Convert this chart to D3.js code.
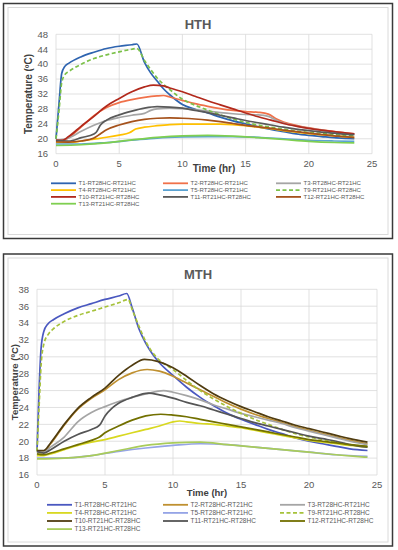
<!DOCTYPE html>
<html><head><meta charset="utf-8">
<script src="https://cdn.jsdelivr.net/npm/d3@7"></script>
<style>body{margin:0;background:#fff}svg{display:block}</style>
</head><body><svg id="c" width="398" height="550"></svg>
<script>
// ---------- DATA ----------
const seriesNames = ["T1-RT28HC-RT21HC","T2-RT28HC-RT21HC","T3-RT28HC-RT21HC","T4-RT28HC-RT21HC","T5-RT28HC-RT21HC","T9-RT21HC-RT28HC","T10-RT21HC-RT28HC","T11-RT21HC-RT28HC","T12-RT21HC-RT28HC","T13-RT21HC-RT28HC"];
const xTicks = [0,5,10,15,20,25];
const hthYTicks = [16,20,24,28,32,36,40,44,48];
const mthYTicks = [16,18,20,22,24,26,28,30,32,34,36,38];

// HTH series: [time (hr), temperature (°C)]
const hthT1 = [[0,20],[0.25,30],[0.45,37.5],[0.7,39.4],[1,40.2],[2,42],[3,43.2],[4,44.2],[5,44.8],[6,45.2],[6.4,45.4],[7,40.5],[7.5,37.6],[8,35.5],[8.5,33.4],[9,31.8],[10,29.2],[11,27.9],[12,26.9],[13,25.8],[14,24.8],[15,24],[16,23.2],[17,22.5],[18,21.9],[19,21.3],[20,20.9],[21,20.6],[22,20.3],[23,20.1],[23.6,20]];
const hthT2 = [[0,19.8],[0.5,19.5],[1,20.3],[2,23.2],[3,26.2],[4,28.4],[5,29.7],[6,30.5],[7,31.1],[8,31.5],[8.5,31.6],[9,31.2],[10,30.3],[11,29.4],[12,28.7],[13,28.1],[14,27.6],[15,27.3],[16,27.1],[16.8,26.6],[17.5,25.2],[18,24.5],[19,23.6],[20,22.9],[21,22.4],[22,21.9],[23,21.5],[23.6,21.3]];
const hthT3 = [[0,19.6],[1,20.2],[2,22],[3,23.6],[4,24.9],[5,25.7],[6,26.3],[7,26.8],[7.5,27.6],[8,28],[9,28.2],[10,28.1],[11,27.8],[12,27.4],[13,27],[14,26.7],[15,26.5],[16,26.4],[16.8,26],[17.5,24.8],[18,24.2],[19,23.4],[20,22.8],[21,22.3],[22,21.8],[23,21.4],[23.6,21.2]];
const hthT4 = [[0,19],[1,19],[2,19.4],[3,19.9],[4,20.4],[5,21],[5.8,21.6],[6.3,22.6],[7,23.1],[8,23.5],[9,23.8],[10,23.9],[11,23.9],[12,23.9],[13,23.9],[14,23.8],[15,23.5],[16,23.1],[17,22.7],[18,22.2],[19,21.8],[20,21.4],[21,21.1],[22,20.8],[23,20.5],[23.6,20.4]];
const hthT5 = [[0,18.6],[2,18.6],[4,19],[6,19.6],[8,20.2],[10,20.5],[12,20.6],[14,20.6],[16,20.4],[18,20],[20,19.6],[22,19.4],[23.6,19.3]];
const hthT9 = [[0,20],[0.25,28],[0.45,35],[0.7,37.2],[1,38],[2,40],[3,41.5],[4,42.5],[5,43.3],[6,44],[6.4,44.2],[7,41],[7.5,38.5],[8,36.3],[8.5,34.6],[9,33.2],[10,30.6],[11,29],[12,27.7],[13,26.4],[14,25.3],[15,24.4],[16,23.7],[17,23.1],[18,22.6],[19,22.1],[20,21.7],[21,21.4],[22,21.1],[23,20.9],[23.6,20.8]];
const hthT10 = [[0,19.6],[0.5,19.6],[1,20.6],[2,23.4],[3,26],[3.5,27.5],[4,28.8],[5,30.8],[6,32.6],[7,33.9],[7.7,34.4],[8.5,34.2],[9,33.6],[10,32.6],[11,31.4],[12,30.2],[13,29.1],[14,28],[15,26.9],[16,25.9],[17,25],[18,24.1],[19,23.4],[20,22.8],[21,22.3],[22,21.9],[23,21.5],[23.6,21.3]];
const hthT11 = [[0,19.5],[1,19.4],[2,20.3],[3,21.3],[3.2,21.8],[3.5,23.6],[4,25],[5,26.4],[6,27.4],[7,28.2],[8,28.6],[9,28.5],[10,28.2],[11,27.6],[12,27],[13,26.3],[14,25.6],[15,24.9],[16,24.3],[17,23.7],[18,23.1],[19,22.6],[20,22.2],[21,21.8],[22,21.5],[23,21.2],[23.6,21.1]];
const hthT12 = [[0,19.2],[1,19.1],[2,19.4],[3,20.2],[3.5,21.3],[4,22.4],[5,23.7],[6,24.6],[7,25.2],[8,25.5],[9,25.6],[10,25.5],[11,25.3],[12,25],[13,24.6],[14,24.1],[15,23.6],[16,23.2],[17,22.8],[18,22.3],[19,21.9],[20,21.5],[21,21.1],[22,20.8],[23,20.5],[23.6,20.4]];
const hthT13 = [[0,18.2],[2,18.4],[4,18.9],[6,19.7],[8,20.4],[10,20.8],[12,20.9],[14,20.7],[16,20.3],[18,19.8],[20,19.3],[22,19],[23.6,18.9]];

// MTH series
const mthT1 = [[0,18.8],[0.15,26],[0.3,31],[0.5,33],[0.8,33.9],[1.2,34.4],[2,35.1],[3,35.8],[4,36.3],[5,36.8],[6,37.2],[6.6,37.5],[7,35.8],[7.5,33.3],[8,31.6],[8.5,30.3],[9,29.3],[10,27.8],[11,26.4],[12,25.2],[13,24.2],[14,23.3],[15,22.6],[16,22],[17,21.4],[18,20.9],[19,20.4],[20,20],[21,19.7],[22,19.4],[23,19.1],[24.3,18.9]];
const mthT2 = [[0,18.8],[0.5,18.8],[1,19.7],[2,21.9],[3,23.8],[4,25.1],[5,26.1],[6,27.3],[7,28.1],[8.1,28.5],[9,28.3],[10,27.7],[11,26.9],[12,26.1],[13,25.3],[14,24.5],[15,23.8],[16,23.2],[17,22.7],[18,22.2],[19,21.7],[20,21.3],[21,20.9],[22,20.5],[23,20.1],[24.3,19.7]];
const mthT3 = [[0,18.7],[0.5,18.7],[1,19.3],[2,20.5],[3,22.3],[4,23.4],[5,24.1],[6,24.7],[7,25.2],[8,25.6],[9.3,26],[10,25.8],[11,25.4],[12,24.9],[13,24.3],[14,23.8],[15,23.3],[16,22.9],[17,22.5],[18,22.1],[19,21.6],[20,21.2],[21,20.8],[22,20.4],[23,20],[24.3,19.6]];
const mthT4 = [[0,18.3],[0.5,18.3],[1,18.5],[2,19],[3,19.5],[4,19.9],[5,20.2],[6,20.6],[7,21],[8,21.4],[9,21.8],[10,22.3],[10.5,22.4],[11,22.3],[12,22.1],[13,22],[14,21.8],[15,21.6],[16,21.3],[17,21],[18,20.7],[19,20.4],[20,20.1],[21,19.9],[22,19.7],[23,19.5],[24.3,19.3]];
const mthT5 = [[0,18],[2,18],[4,18.3],[6,18.8],[8,19.2],[10,19.5],[12,19.7],[14,19.6],[16,19.3],[18,19],[20,18.7],[22,18.4],[24.3,18.2]];
const mthT9 = [[0,18.8],[0.15,24],[0.3,29],[0.5,31.5],[0.8,32.6],[1.2,33.3],[2,34.2],[3,34.9],[4,35.4],[5,35.9],[6,36.4],[6.7,36.8],[7,35.6],[7.5,33.6],[8,31.8],[8.5,30.5],[9,29.6],[10,28.5],[11,27.2],[12,26],[13,25],[14,24.1],[15,23.3],[16,22.6],[17,22],[18,21.4],[19,20.9],[20,20.5],[21,20.2],[22,19.9],[23,19.6],[24.3,19.4]];
const mthT10 = [[0,18.9],[0.5,18.9],[1,19.8],[2,22],[3,23.9],[4,25.2],[5,26.3],[6,27.8],[7,29],[7.9,29.7],[9,29.4],[10,28.7],[11,27.7],[12,26.6],[13,25.6],[14,24.8],[15,24.1],[16,23.5],[17,22.9],[18,22.4],[19,21.9],[20,21.5],[21,21.1],[22,20.7],[23,20.3],[24.3,19.9]];
const mthT11 = [[0,18.8],[0.5,18.6],[1,19],[2,20],[3,20.8],[4,21.4],[4.6,21.9],[5,23],[5.5,23.9],[6,24.5],[7,25.2],[8.2,25.7],[9,25.5],[10,25.1],[11,24.6],[12,24.2],[13,23.7],[14,23.2],[15,22.7],[16,22.2],[17,21.8],[18,21.4],[19,21],[20,20.6],[21,20.3],[22,20],[23,19.6],[24.3,19.3]];
const mthT12 = [[0,18.5],[0.5,18.4],[1,18.6],[2,19.1],[3,19.6],[4,20.1],[4.6,20.5],[5,21],[6,21.8],[7,22.5],[8,23],[9.1,23.2],[10,23.1],[11,22.9],[12,22.6],[13,22.3],[14,22],[15,21.7],[16,21.4],[17,21.1],[18,20.8],[19,20.5],[20,20.2],[21,20],[22,19.8],[23,19.6],[24.3,19.4]];
const mthT13 = [[0,17.9],[2,18],[4,18.3],[6,18.9],[8,19.5],[10,19.8],[12,19.9],[14,19.6],[16,19.3],[18,19],[20,18.7],[22,18.4],[24.3,18.1]];

const hthData = [hthT1,hthT2,hthT3,hthT4,hthT5,hthT9,hthT10,hthT11,hthT12,hthT13];
const mthData = [mthT1,mthT2,mthT3,mthT4,mthT5,mthT9,mthT10,mthT11,mthT12,mthT13];
const hthColors = ["#2e64b0","#f0714a","#a5a5a5","#ffc000","#5ba3d2","#7cc14a","#b2291c","#595959","#a5521c","#7fcf50"];
const mthColors = ["#4a58c0","#bf9030","#a5a5a5","#d8d820","#95a4e6","#a6c23a","#503c10","#555555","#727000","#a9cc5a"];

// ---------- DRAW ----------
const svg = d3.select("#c");
const FONT = "'Liberation Sans', Arial, sans-serif";

function drawChart(cfg) {
  const g = svg.append("g");
  g.append("rect").attr("x",cfg.box[0]).attr("y",cfg.box[1]).attr("width",cfg.box[2]).attr("height",cfg.box[3])
    .attr("fill","#fff").attr("stroke","#3a3a3a").attr("stroke-width",1.5);
  g.append("rect").attr("x",cfg.box[0]+4.5).attr("y",cfg.box[1]+4).attr("width",cfg.box[2]-9).attr("height",cfg.box[3]-8)
    .attr("fill","none").attr("stroke","#dadada").attr("stroke-width",1);

  const x = d3.scaleLinear().domain([0,25]).range(cfg.xr);
  const y = d3.scaleLinear().domain(cfg.yd).range(cfg.yr);

  // grid
  g.selectAll(".hg").data(cfg.yTicks).join("line")
    .attr("x1",cfg.xr[0]).attr("x2",cfg.xr[1]).attr("y1",d=>y(d)).attr("y2",d=>y(d))
    .attr("stroke","#d9d9d9").attr("stroke-width",0.8);
  g.selectAll(".vg").data(xTicks).join("line")
    .attr("y1",cfg.yr[0]).attr("y2",cfg.yr[1]).attr("x1",d=>x(d)).attr("x2",d=>x(d))
    .attr("stroke","#d9d9d9").attr("stroke-width",0.8);

  // tick labels
  g.selectAll(".yl").data(cfg.yTicks).join("text")
    .attr("x",cfg.yLabelX).attr("y",d=>y(d)).attr("dy","0.35em").attr("text-anchor","end")
    .attr("font-family",FONT).attr("font-size",cfg.tickFs).attr("fill","#595959").text(d=>d);
  g.selectAll(".xl").data(xTicks).join("text")
    .attr("x",d=>x(d)).attr("y",cfg.xLabelY).attr("text-anchor","middle")
    .attr("font-family",FONT).attr("font-size",cfg.tickFs).attr("fill","#595959").text(d=>d);

  // titles
  g.append("text").attr("x",cfg.titleX).attr("y",cfg.titleY).attr("text-anchor","middle")
    .attr("font-family",FONT).attr("font-size",13).attr("font-weight","bold").attr("fill","#595959").text(cfg.title);
  g.append("text").attr("x",(cfg.xr[0]+cfg.xr[1])/2).attr("y",cfg.xTitleY).attr("text-anchor","middle")
    .attr("font-family",FONT).attr("font-size",cfg.axFs).attr("font-weight","bold").attr("fill","#404040").text("Time (hr)");
  g.append("text").attr("transform",`translate(${cfg.yTitleX},${(cfg.yr[0]+cfg.yr[1])/2}) rotate(-90)`)
    .attr("text-anchor","middle").attr("dy","0.35em")
    .attr("font-family",FONT).attr("font-size",cfg.axFs).attr("font-weight","bold").attr("fill","#404040").text("Temperature (ºC)");

  // lines
  const line = d3.line().x(d=>x(d[0])).y(d=>y(d[1])).curve(d3.curveMonotoneX);
  cfg.data.forEach((s,i)=>{
    g.append("path").attr("d",line(s)).attr("fill","none").attr("stroke",cfg.colors[i])
      .attr("stroke-width",1.7).attr("stroke-linejoin","round")
      .attr("stroke-dasharray", seriesNames[i].startsWith("T9") ? "4,2.5" : null);
  });

  // legend
  seriesNames.forEach((name,i)=>{
    const col = i%3, row = Math.floor(i/3);
    const lx = cfg.legCols[col], ly = cfg.legY0 + row*cfg.legDy;
    g.append("line").attr("x1",lx).attr("x2",lx+25).attr("y1",ly).attr("y2",ly)
      .attr("stroke",cfg.colors[i]).attr("stroke-width",1.8)
      .attr("stroke-dasharray", name.startsWith("T9") ? "4,2.5" : null);
    g.append("text").attr("x",lx+27.5).attr("y",ly).attr("dy","0.35em")
      .attr("font-family",FONT).attr("font-size",cfg.legFs).attr("fill","#595959").text(name);
  });
}

drawChart({
  box:[3.5,3.5,389,235], title:"HTH", titleX:198, titleY:28.5,
  xr:[56,372], yr:[153.7,34.3], yd:[16,48], yTicks:hthYTicks,
  yLabelX:48, xLabelY:167, tickFs:9.5, axFs:10, xTitleY:172, yTitleX:28,
  data:hthData, colors:hthColors,
  legCols:[51,163,276], legY0:183.3, legDy:6.8, legFs:6
});
drawChart({
  box:[3.5,254,389,292], title:"MTH", titleX:198, titleY:278.5,
  xr:[37,377], yr:[475,289.3], yd:[16,38], yTicks:mthYTicks,
  yLabelX:29, xLabelY:488, tickFs:9.5, axFs:9.5, xTitleY:495.5, yTitleX:15,
  data:mthData, colors:mthColors,
  legCols:[47,163,280], legY0:504.8, legDy:8.1, legFs:6.5
});
</script></body></html>
